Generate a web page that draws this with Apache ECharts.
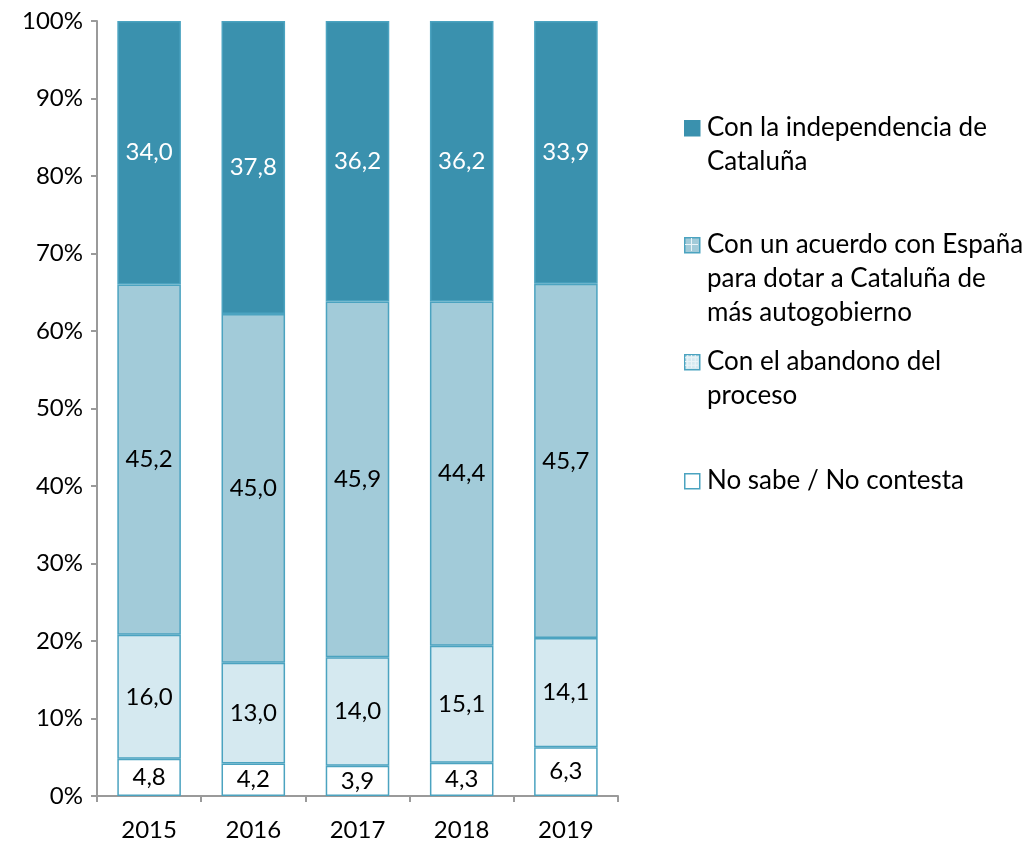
<!DOCTYPE html>
<html>
<head>
<meta charset="utf-8">
<script src="https://cdn.jsdelivr.net/npm/echarts@6/dist/echarts.min.js"></script>
<style>
  html, body { margin: 0; padding: 0; background: #fff; }
  #chart { width: 1026px; height: 842px; }
</style>
</head>
<body>
<div id="chart"></div>
<script>
const years = ['2015', '2016', '2017', '2018', '2019']
const noSabe = [4.8, 4.2, 3.9, 4.3, 6.3]
const abandono = [16.0, 13.0, 14.0, 15.1, 14.1]
const acuerdo = [45.2, 45.0, 45.9, 44.4, 45.7]
const independencia = [34.0, 37.8, 36.2, 36.2, 33.9]

const legendNames = [
  'Con la independencia de\nCataluña',
  'Con un acuerdo con España\npara dotar a Cataluña de\nmás autogobierno',
  'Con el abandono del\nproceso',
  'No sabe / No contesta'
]

const FONT = 'Lato, "Open Sans", sans-serif'
const BORDER = '#4ba3c0'
const fmt = p => p.value.toFixed(1).replace('.', ',')

const makeSeries = (name, data, color, labelColor) => ({
  name,
  type: 'bar',
  stack: 'total',
  data,
  barWidth: '61%',
  itemStyle: { color, borderColor: BORDER, borderWidth: 1.5 },
  label: {
    show: true,
    position: 'inside',
    formatter: fmt,
    color: labelColor,
    fontFamily: FONT,
    fontSize: 24
  }
})

// legend drawn by hand so the swatch sits on the first text line
const legendColors = ['#3a91ae', '#a2cbd9', '#d5e9f0', '#ffffff']
const legendGridSteps = [0, 2, 4, 0] // inner grid lines in the little swatches
const legendTops = [120, 237, 354, 473]
const legendGraphics = []
legendNames.forEach((name, i) => {
  const x0 = 684, y0 = legendTops[i], s = 15
  legendGraphics.push({
    type: 'rect',
    left: x0,
    top: y0,
    shape: { width: s, height: s },
    style: {
      fill: legendColors[i],
      stroke: i === 0 ? '#3a91ae' : BORDER,
      lineWidth: 1.5
    },
    z: 10
  })
  const n = legendGridSteps[i]
  for (let k = 1; k < n; k++) {
    const d = s * k / n
    legendGraphics.push({
      type: 'line', z: 11,
      shape: { x1: x0 + d, y1: y0 + 1, x2: x0 + d, y2: y0 + s - 1 },
      style: { stroke: '#eaf4f8', lineWidth: 1 }
    })
    legendGraphics.push({
      type: 'line', z: 11,
      shape: { x1: x0 + 1, y1: y0 + d, x2: x0 + s - 1, y2: y0 + d },
      style: { stroke: '#eaf4f8', lineWidth: 1 }
    })
  }
  legendGraphics.push({
    type: 'text',
    left: 707,
    top: legendTops[i] - 9,
    style: {
      text: name,
      font: '26px ' + FONT,
      fill: '#000',
      lineHeight: 34
    }
  })
})

const chart = echarts.init(document.getElementById('chart'), null, { renderer: 'canvas' })

chart.setOption({
  animation: false,
  grid: { left: 97, right: 408, top: 21, bottom: 45 },
  xAxis: {
    type: 'category',
    data: years,
    axisLine: { lineStyle: { color: '#9a9a9a', width: 2 } },
    axisTick: { show: true, length: 6, lineStyle: { color: '#9a9a9a', width: 2 } },
    axisLabel: { color: '#000', fontFamily: FONT, fontSize: 24, margin: 22 }
  },
  yAxis: {
    type: 'value',
    min: 0,
    max: 100,
    interval: 10,
    splitLine: { show: false },
    axisLine: { show: true, lineStyle: { color: '#9a9a9a', width: 2 } },
    axisTick: { show: true, length: 6, lineStyle: { color: '#9a9a9a', width: 2 } },
    axisLabel: { formatter: '{value}%', color: '#000', fontFamily: FONT, fontSize: 24, margin: 14 }
  },
  series: [
    makeSeries('No sabe / No contesta', noSabe, '#ffffff', '#000'),
    makeSeries('Con el abandono del proceso', abandono, '#d5e9f0', '#000'),
    makeSeries('Con un acuerdo con España', acuerdo, '#a2cbd9', '#000'),
    makeSeries('Con la independencia de Cataluña', independencia, '#3a91ae', '#fff')
  ],
  graphic: legendGraphics
})

window.addEventListener('resize', () => chart.resize())
</script>
</body>
</html>
